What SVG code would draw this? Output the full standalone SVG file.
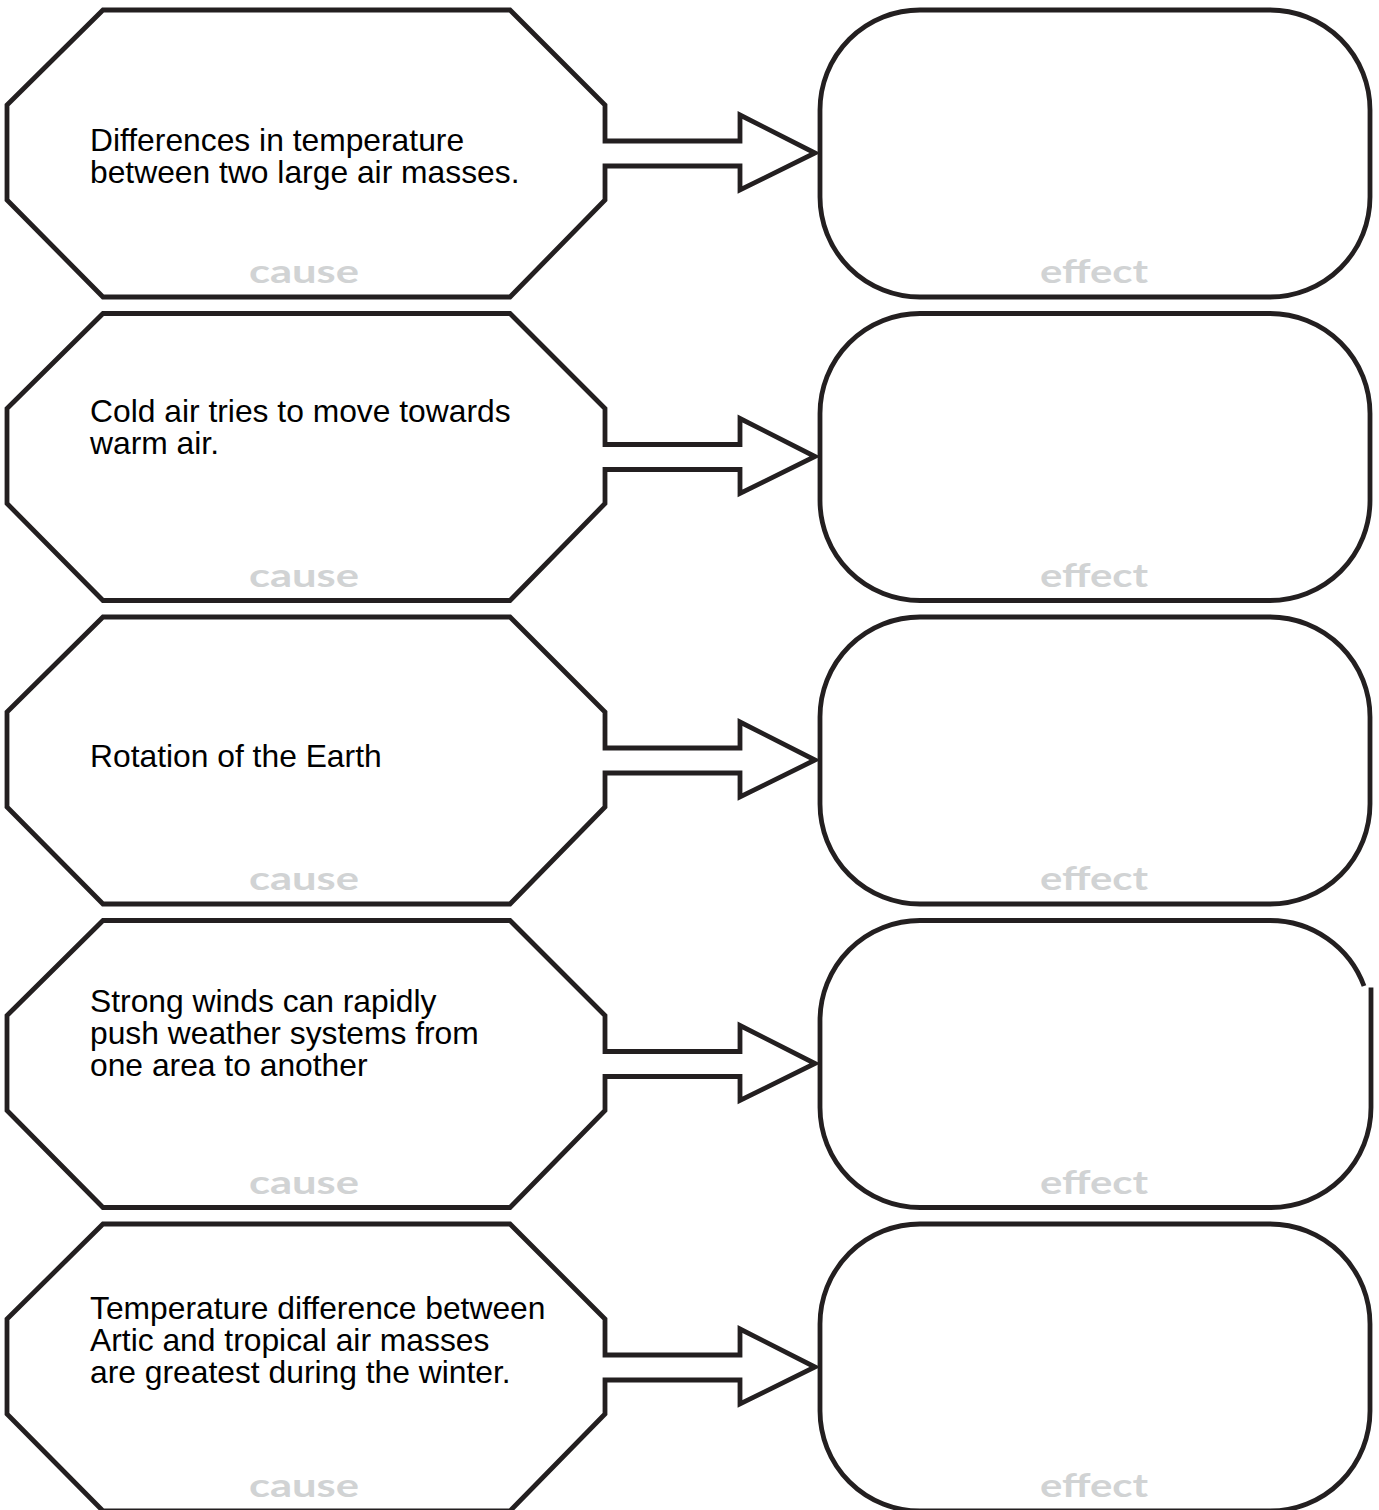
<svg xmlns="http://www.w3.org/2000/svg" width="1379" height="1510" viewBox="0 0 1379 1510">
<style>
.shape{fill:#fff;stroke:#231f20;stroke-width:4.8;stroke-linejoin:miter}
.txt{font-family:"Liberation Sans",Arial,sans-serif;font-size:31.8px;fill:#000}
.lbl{font-family:Lato,"Open Sans",sans-serif;font-size:32px;font-weight:bold;fill:#d1d3d4}
</style>
<defs>
<path id="oct" d="M103,10 L510,10 L605,105 L605,141 L740,141 L740,115 L815,153 L740,190 L740,166 L605,166 L605,200 L510,297 L103,297 L7,200 L7,105 Z"/>
<path id="rr" d="M920,10 H1270 A100,100 0 0 1 1370,110 V197 A100,100 0 0 1 1270,297 H920 A100,100 0 0 1 820,197 V110 A100,100 0 0 1 920,10 Z"/>
</defs>
<rect width="1379" height="1510" fill="#fff"/>
<g id="connectors">
<!-- arrows are drawn as part of each cause outline -->
</g>
<g id="cause1">
<use href="#oct" class="shape"/>
<text class="txt" x="90" y="151">Differences in temperature</text>
<text class="txt" x="90" y="183">between two large air masses.</text>
<text class="lbl" x="249" y="283" textLength="110" lengthAdjust="spacingAndGlyphs">cause</text>
</g>
<g id="effect1">
<use href="#rr" class="shape"/>
<text class="lbl" x="1040" y="283" textLength="108" lengthAdjust="spacingAndGlyphs">effect</text>
</g>
<g id="cause2" transform="translate(0,303.5)">
<use href="#oct" class="shape"/>
<text class="txt" x="90" y="118.5">Cold air tries to move towards</text>
<text class="txt" x="90" y="150.5">warm air.</text>
<text class="lbl" x="249" y="283" textLength="110" lengthAdjust="spacingAndGlyphs">cause</text>
</g>
<g id="effect2" transform="translate(0,303.5)">
<use href="#rr" class="shape"/>
<text class="lbl" x="1040" y="283" textLength="108" lengthAdjust="spacingAndGlyphs">effect</text>
</g>
<g id="cause3" transform="translate(0,607)">
<use href="#oct" class="shape"/>
<text class="txt" x="90" y="160">Rotation of the Earth</text>
<text class="lbl" x="249" y="283" textLength="110" lengthAdjust="spacingAndGlyphs">cause</text>
</g>
<g id="effect3" transform="translate(0,607)">
<use href="#rr" class="shape"/>
<text class="lbl" x="1040" y="283" textLength="108" lengthAdjust="spacingAndGlyphs">effect</text>
</g>
<g id="cause4" transform="translate(0,910.5)">
<use href="#oct" class="shape"/>
<text class="txt" x="90" y="101.5">Strong winds can rapidly</text>
<text class="txt" x="90" y="133.5">push weather systems from</text>
<text class="txt" x="90" y="165.5">one area to another</text>
<text class="lbl" x="249" y="283" textLength="110" lengthAdjust="spacingAndGlyphs">cause</text>
</g>
<g id="effect4" transform="translate(0,910.5)">
<path class="shape" d="M920,10 H1270 A100,100 0 0 1 1364,75.5 M1371,77 V197 A100,100 0 0 1 1271,297 H920 A100,100 0 0 1 820,197 V110 A100,100 0 0 1 920,10"/>
<text class="lbl" x="1040" y="283" textLength="108" lengthAdjust="spacingAndGlyphs">effect</text>
</g>
<g id="cause5" transform="translate(0,1214)">
<use href="#oct" class="shape"/>
<text class="txt" x="90" y="105">Temperature difference between</text>
<text class="txt" x="90" y="137">Artic and tropical air masses</text>
<text class="txt" x="90" y="169">are greatest during the winter.</text>
<text class="lbl" x="249" y="283" textLength="110" lengthAdjust="spacingAndGlyphs">cause</text>
</g>
<g id="effect5" transform="translate(0,1214)">
<use href="#rr" class="shape"/>
<text class="lbl" x="1040" y="283" textLength="108" lengthAdjust="spacingAndGlyphs">effect</text>
</g>
</svg>
